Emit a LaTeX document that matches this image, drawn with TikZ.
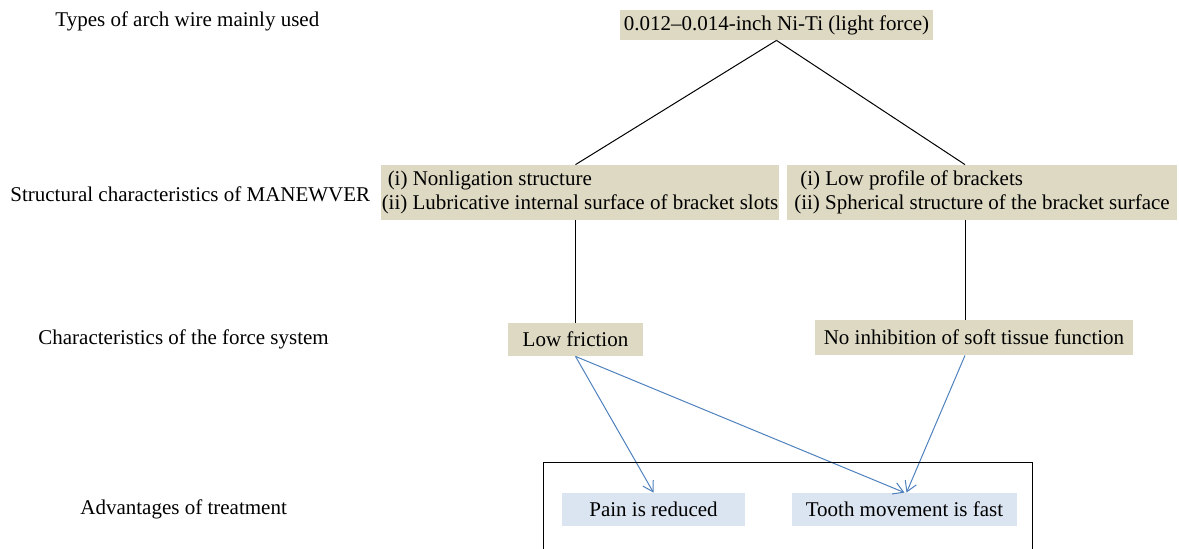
\documentclass[tikz,border=0pt]{standalone}
\usepackage{fontspec}
\setmainfont{Liberation Serif}
\usetikzlibrary{arrows.meta,positioning}
\definecolor{tanfill}{HTML}{DDD9C3}
\definecolor{bluefill}{HTML}{DBE5F1}
\definecolor{flowblue}{HTML}{4F81BD}

\begin{document}
\begin{tikzpicture}[x=0.5pt,y=-0.5pt,
    every node/.style={font=\fontsize{10.5}{12}\selectfont},
    featbox/.style={fill=tanfill,inner sep=0pt,align=left},
    gainbox/.style={fill=bluefill,inner sep=0pt},
    rowlabel/.style={anchor=west,inner sep=0pt},
    link/.style={draw=black,line width=0.5pt},
    flow/.style={-{Straight Barb[length=5pt,width=6pt]},draw=flowblue,line width=0.5pt}]
    \useasboundingbox (0,0) rectangle (1179,548);

    % row labels
    \node[rowlabel] (lblWire) at (55,21) {Types of arch wire mainly used};
    \node[rowlabel] (lblStruct) at (10,194) {Structural characteristics of MANEWVER};
    \node[rowlabel] (lblForce) at (38,339) {Characteristics of the force system};
    \node[rowlabel] (lblAdv) at (80,509) {Advantages of treatment};

    % boxes
    \node[featbox,minimum width=156.5pt,minimum height=15pt] (wire) at (776.5,25) {0.012--0.014-inch Ni-Ti (light force)};
    \node[featbox,minimum width=199pt,minimum height=27.5pt] (structA) at (580,192.5)
        {\hspace{3pt}(i) Nonligation structure\\(ii) Lubricative internal surface of bracket slots};
    \node[featbox,minimum width=195pt,minimum height=27.5pt] (structB) at (982,192.5)
        {\hspace{3pt}(i) Low profile of brackets\\(ii) Spherical structure of the bracket surface};
    \node[featbox,minimum width=67.5pt,minimum height=16.5pt] (friction) at (575.5,339.5) {Low friction};
    \node[featbox,minimum width=159pt,minimum height=17.5pt] (soft) at (974,337.5) {No inhibition of soft tissue function};
    \node[gainbox,minimum width=91.5pt,minimum height=16.5pt] (pain) at (653.5,509.5) {Pain is reduced};
    \node[gainbox,minimum width=112.5pt,minimum height=16.5pt] (tooth) at (904.5,509.5) {Tooth movement is fast};

    % tree lines
    \draw[link] (wire.south) -- (structA.north -| friction.north);
    \draw[link] (wire.south) -- ([xshift=-8.5pt]structB.north);
    \draw[link] (structA.south -| friction.north) -- (friction.north);
    \draw[link] ([xshift=-8.5pt]structB.south) -- ([xshift=-8.5pt]structB.south |- soft.north);

    % effects
    \draw[flow] (friction.south) -- (pain.north);
    \draw[flow] (friction.south) -- (tooth.north);
    \draw[flow] ([xshift=-4.5pt]soft.south) -- ([xshift=1pt]tooth.north);

    % frame round the advantages
    \draw[link] (543,552) |- (1032,462) -- (1032,552);
\end{tikzpicture}
\end{document}
